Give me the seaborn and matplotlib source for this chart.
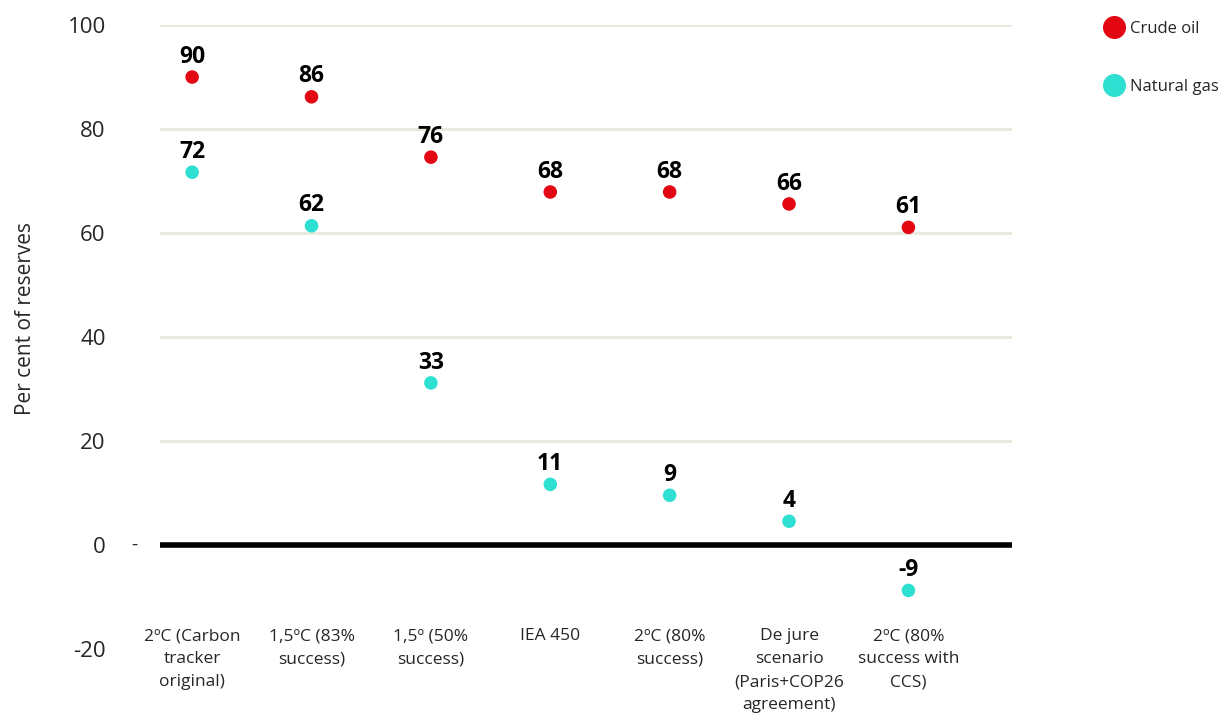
import numpy as np
import pandas as pd
import seaborn as sns
import matplotlib.pyplot as plt

# data
scenarios = ["2ºC (Carbon\ntracker\noriginal)", "1,5ºC (83%\nsuccess)", "1,5º (50%\nsuccess)",
             "IEA 450", "2ºC (80%\nsuccess)", "De jure\nscenario\n(Paris+COP26\nagreement)",
             "2ºC (80%\nsuccess with\nCCS)"]
oil = [90, 86.2, 74.6, 67.9, 67.9, 65.6, 61.1]
gas = [71.7, 61.4, 31.2, 11.7, 9.6, 4.6, -8.7]
oil_labels = ["90", "86", "76", "68", "68", "66", "61"]
gas_labels = ["72", "62", "33", "11", "9", "4", "-9"]

red = "#e30613"
cyan = "#2ee0d2"

df = pd.DataFrame({
    "scenario": scenarios * 2,
    "value": oil + gas,
    "fuel": ["Crude oil"] * len(oil) + ["Natural gas"] * len(gas),
})

sns.set_theme(style="white")
plt.rcParams['font.family'] = ['Open Sans', 'DejaVu Sans']
plt.rcParams['axes.unicode_minus'] = False

fig = plt.figure(figsize=(12.3, 7.15), dpi=100)
ax = fig.add_axes([0.130, 0.092, 0.693, 0.873])

sns.scatterplot(data=df, x="scenario", y="value", hue="fuel",
                palette={"Crude oil": red, "Natural gas": cyan},
                s=95, linewidth=0, ax=ax, zorder=3)

# value labels above the dots
for i, (v, t) in enumerate(zip(oil, oil_labels)):
    ax.annotate(t, (i, v), xytext=(0, 6), textcoords="offset points",
                ha="center", va="bottom", fontsize=16.5, fontweight="bold", color="black")
for i, (v, t) in enumerate(zip(gas, gas_labels)):
    ax.annotate(t, (i, v), xytext=(0, 6), textcoords="offset points",
                ha="center", va="bottom", fontsize=16.5, fontweight="bold", color="black")

# gridlines and zero line
for g in [20, 40, 60, 80, 100]:
    ax.axhline(g, color="#e8e8dc", lw=2, zorder=1)
ax.axhline(0, color="black", lw=4, zorder=2)

ax.set_ylim(-20, 100)
ax.set_xlim(-0.27, 6.87)
ax.set_yticks([-20, 0, 20, 40, 60, 80, 100])
ax.tick_params(axis="y", labelsize=16, length=0, pad=39)
ax.tick_params(axis="x", labelsize=12.5, length=0, pad=-15)
for lab in ax.get_xticklabels():
    lab.set_linespacing(1.58)
ax.text(-0.48, 0, "-", ha="center", va="center", fontsize=14)

ax.set_xlabel("")
ax.set_ylabel("Per cent of reserves", fontsize=15)
ax.yaxis.set_label_coords(-0.145, 0.53)
sns.despine(ax=ax, left=True, bottom=True)

handles, labels = ax.get_legend_handles_labels()
ax.legend(handles, labels, loc="upper left", bbox_to_anchor=(1.09, 1.03),
          frameon=False, fontsize=12, markerscale=1.7, labelspacing=2.5,
          handletextpad=0.35, handlelength=1.2)

fig.savefig("out.png", dpi=100)
